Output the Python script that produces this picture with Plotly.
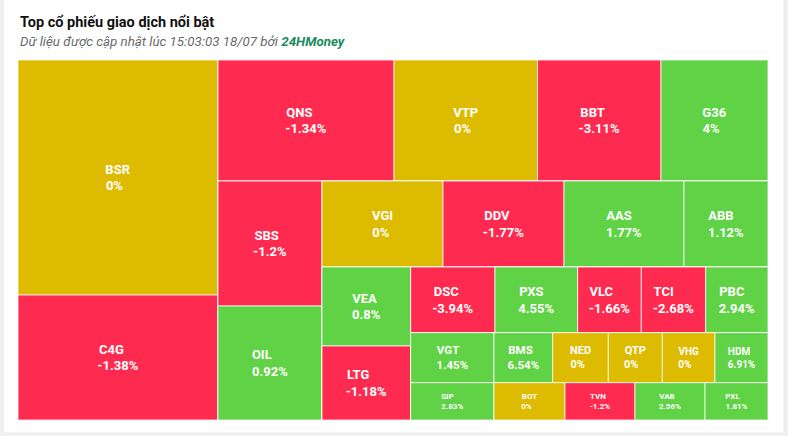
import plotly.graph_objects as go

# ---- data -----------------------------------------------------------------
tickers = ["BSR", "C4G", "QNS", "VTP", "BBT", "G36", "SBS", "OIL", "VGI", "DDV",
           "AAS", "ABB", "VEA", "LTG", "DSC", "PXS", "VLC", "TCI", "PBC", "VGT",
           "SIP", "BMS", "NED", "QTP", "VHG", "HDM", "BOT", "TVN", "VAB", "PXL"]
volumes = [47000, 25000, 21296, 17364, 14944, 12947, 13000, 11856, 10406, 10406,
           10320, 7224, 7007, 6564, 5538, 5433, 4179, 4231, 4093, 4165,
           3107, 2935, 2780, 2700, 2635, 2650, 2648, 2611, 2611, 2350]
changes = [0, -1.38, -1.34, 0, -3.11, 4, -1.2, 0.92, 0, -1.77,
           1.77, 1.12, 0.8, -1.18, -3.94, 4.55, -1.66, -2.68, 2.94, 1.45,
           2.83, 6.54, 0, 0, 0, 6.91, 0, -1.2, 2.56, 1.81]
ticker_group = ["G1", "G1", "T1", "T1", "T1", "T1", "G2", "G2", "T2", "T2",
                "T2", "T2", "G3", "G3", "T3", "T3", "T3", "T3", "T3", "G4",
                "G4", "T4", "T4", "T4", "T4", "T4", "T5", "T5", "T5", "T5"]
group_ids = ["G1", "R1", "T1", "R2", "G2", "R3", "T2", "R4", "G3", "R5",
             "T3", "R6", "G4", "R7", "T4", "T5"]
group_parents = ["", "", "R1", "R1", "R2", "R2", "R3", "R3", "R4", "R4",
                 "R5", "R5", "R6", "R6", "R7", "R7"]

# ---- styles ---------------------------------------------------------------
font_sizes = [13, 13, 13, 13, 13, 13, 13, 13, 13, 13,
              13, 13, 13, 13, 13, 13, 13, 13, 13, 11.5,
              8, 11.5, 11, 11, 10, 10, 8, 8, 8, 8]
UP, DOWN, FLAT = "#5fd345", "#ff2a50", "#ddbb00"

# approximate Roboto Bold advance widths (em), used to left-align the two lines
ADV = {"A": .665, "B": .637, "C": .651, "D": .639, "E": .555, "F": .545, "G": .681,
       "H": .712, "I": .289, "K": .631, "L": .537, "M": .873, "N": .712, "O": .687,
       "P": .641, "Q": .687, "R": .624, "S": .605, "T": .609, "V": .654, "X": .641,
       ".": .279, "%": .733, "-": .283}
NBSP_W = .248


def text_width(s):
    return sum(ADV.get(ch, .5615) for ch in s)


def left_aligned(a, b):
    wa, wb = text_width(a), text_width(b)
    pad = int(round(abs(wa - wb) / NBSP_W))
    if wa < wb:
        a = a + "\u00a0" * pad
    else:
        b = b + "\u00a0" * pad
    return a + "<br>" + b


def color_for(c):
    return UP if c > 0 else (DOWN if c < 0 else FLAT)


ids = group_ids + tickers
labels = ["" for _ in group_ids] + tickers
parents = group_parents + ticker_group
values = [0 for _ in group_ids] + volumes
texts = ["" for _ in group_ids] + [left_aligned(t, f"{c:g}%") for t, c in zip(tickers, changes)]
colors = ["rgba(0,0,0,0)" for _ in group_ids] + [color_for(c) for c in changes]
sizes = [10 for _ in group_ids] + font_sizes

fig = go.Figure(go.Treemap(
    ids=ids, labels=labels, parents=parents, values=values,
    branchvalues="remainder", sort=False,
    text=texts, textinfo="text", textposition="middle center",
    textfont=dict(family="Roboto", color="white", size=sizes, weight="bold"),
    marker=dict(colors=colors, line=dict(color="rgba(255,255,255,0.75)", width=1),
                pad=dict(t=0, l=0, r=0, b=0), depthfade=False),
    tiling=dict(packing="slice-dice", pad=0),
    pathbar=dict(visible=False),
    hoverinfo="skip",
    domain=dict(x=[18 / 788, 768 / 788], y=[1 - 420 / 436, 1 - 60 / 436]),
))

fig.add_shape(type="rect", xref="paper", yref="paper",
              x0=3 / 788, x1=784 / 788, y0=1 - 433 / 436, y1=1.01,
              fillcolor="white", line=dict(color="#e6e8eb", width=1), layer="below")

fig.add_annotation(x=18 / 788, y=1 - 22 / 436, xref="paper", yref="paper",
                   xanchor="left", yanchor="middle", showarrow=False,
                   text="<b>Top cổ phiếu giao dịch nổi bật</b>",
                   font=dict(family="Roboto", size=14.5, color="#111111"))
fig.add_annotation(x=18 / 788, y=1 - 42 / 436, xref="paper", yref="paper",
                   xanchor="left", yanchor="middle", showarrow=False,
                   text="<i>Dữ liệu được cập nhật lúc 15:03:03 18/07 bởi "
                        "<b><span style='color:#1d8a5e'>24HMoney</span></b></i>",
                   font=dict(family="Roboto", size=13.3, color="#6b6b6b"))

fig.update_layout(width=788, height=436, margin=dict(l=0, r=0, t=0, b=0),
                  paper_bgcolor="#eef0f2", font=dict(family="Roboto"))

fig.write_html("out.html", config={"displayModeBar": False},
               post_script="document.body.style.margin='0';")
